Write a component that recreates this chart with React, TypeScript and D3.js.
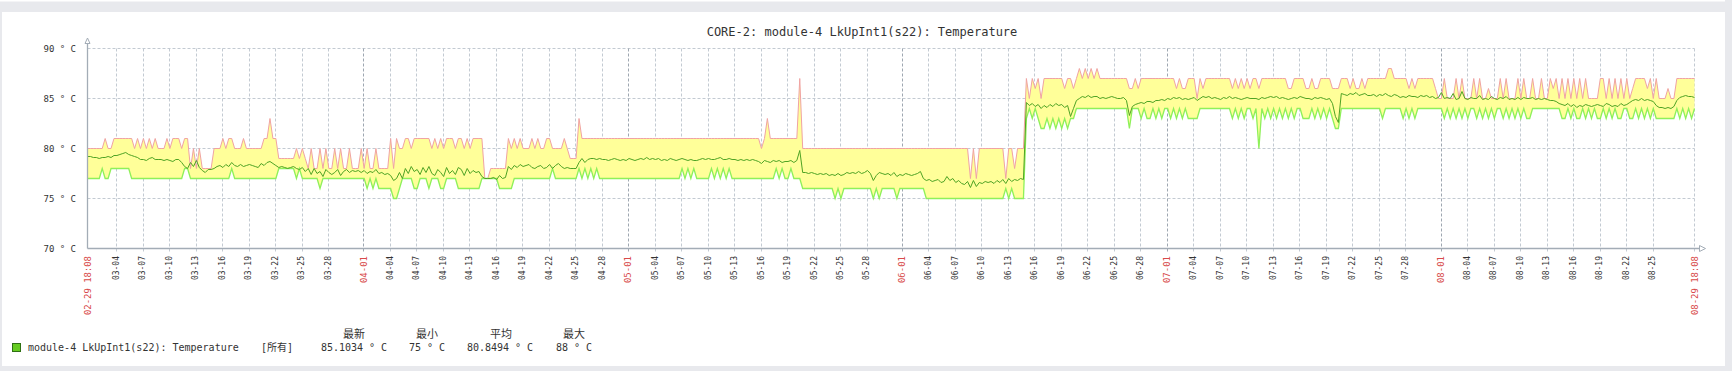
import React from 'react';
import * as d3 from 'd3';

// ---------- data (sampled every 8 hours from 02-29 18:08 to 08-29 18:08) ----------
const START_LABEL = '2024-02-29 18:08';
const END_LABEL = '2024-08-29 18:08';
const STEP_HOURS = 8;

const maxValues = [
  80,
  // 03-01 .. 03-10
  80,80,80, 80,80,81, 80,80,81, 81,81,81, 81,81,81, 80,81,80, 81,80,81, 80,81,80, 80,80,81, 80,81,81,
  81,80,81, 81,78,80, 78,80,78, 78,78,78, 80,80,80, 81,80,81, 81,80,80, 80,81,80, 80,80,80, 80,80,81,
  81,83,81, 81,79,79, 79,79,79, 79,80,79, 80,79,78, 80,78,78, 80,78,80, 78,78,80, 78,80,78, 78,80,78,
  78,78,80, 78,80,78, 78,80,78, 78,78,78, 81,78,81, 80,80,81, 81,80,81, 81,81,81, 81,81,80, 81,80,81,
  80,81,81, 81,80,81, 81,80,81, 80,81,81, 81,81,77, 77,78,78, 78,78,78, 78,81,80, 81,80,81, 80,80,80,
  81,80,81, 80,80,81, 81,80,80, 80,80,81, 80,79,79, 79,83,81, 81,81,81, 81,81,81, 81,81,81, 81,81,81,
  81,81,81, 81,81,81, 81,81,81, 81,81,81, 81,81,81, 81,81,81, 81,81,81, 81,81,81, 81,81,81, 81,81,81,
  81,81,81, 81,81,81, 81,81,81, 81,81,81, 81,81,81, 81,81,81, 80,81,83, 81,81,81, 81,81,81, 81,81,81,
  81,87,80, 80,80,80, 80,80,80, 80,80,80, 80,80,80, 80,80,80, 80,80,80, 80,80,80, 80,80,80, 80,80,80,
  80,80,80, 80,80,80, 80,80,80, 80,80,80, 80,80,80, 80,80,80, 80,80,80, 80,80,80, 80,80,80, 80,80,77,
  80,77,80, 80,80,80, 80,80,80, 80,80,77, 80,80,78, 80,80,80, 87,85,87, 86,87,85, 87,87,87, 87,87,87,
  87,86,87, 87,86,87, 88,87,88, 87,88,87, 88,87,87, 87,87,87, 87,87,87, 87,87,86, 86,87,86, 87,87,87,
  87,87,87, 87,87,87, 87,87,87, 86,87,86, 86,87,87, 87,85,87, 86,87,87, 87,87,87, 87,87,87, 87,86,87,
  86,87,86, 87,86,87, 87,86,87, 87,87,87, 87,87,87, 87,87,86, 86,87,87, 87,87,86, 86,87,86, 86,87,87,
  87,87,86, 86,86,87, 87,87,86, 87,86,86, 87,86,87, 87,87,87, 87,87,87, 88,88,87, 87,87,87, 87,86,87,
  86,87,87, 87,87,87, 87,86,85, 85,87,85, 85,85,87, 85,87,85, 85,85,87, 85,87,85, 85,86,85, 85,85,87,
  85,87,85, 85,85,87, 85,87,85, 85,87,85, 85,87,85, 85,87,86, 87,85,87, 85,87,85, 87,85,87, 85,87,85,
  85,85,85, 87,87,85, 87,85,87, 85,87,85, 87,85,86, 87,87,87, 87,86,87, 85,87,85, 85,85,86, 85,85,87,
  87,87,87, 87,87,87,
];

const minValues = [
  77,
  77,77,77, 77,78,77, 77,78,78, 78,78,78, 78,78,77, 77,77,77, 77,77,77, 77,77,77, 77,77,77, 77,77,77,
  77,77,78, 78,77,77, 77,77,77, 77,77,77, 77,77,77, 77,77,77, 78,77,77, 77,77,77, 77,77,77, 77,77,77,
  77,77,77, 77,78,78, 78,78,78, 78,77,78, 77,77,77, 77,77,77, 76,77,77, 77,77,77, 77,77,77, 77,77,77,
  77,77,77, 77,76,77, 76,77,76, 76,76,76, 76,75,75, 76,77,77, 77,77,76, 76,77,77, 77,76,77, 77,77,76,
  76,77,77, 77,77,76, 76,76,76, 76,76,76, 76,77,77, 77,77,77, 77,76,76, 76,76,76, 77,77,77, 77,77,77,
  77,77,77, 77,77,77, 77,78,77, 77,77,77, 77,77,77, 77,78,77, 78,77,78, 77,78,77, 77,77,77, 77,77,77,
  77,77,77, 77,77,77, 77,77,77, 77,77,77, 77,77,77, 77,77,77, 77,77,77, 78,77,78, 77,78,77, 77,77,77,
  77,78,77, 78,77,78, 77,78,77, 77,77,77, 77,77,77, 77,77,77, 77,77,77, 77,77,78, 77,78,77, 77,78,77,
  77,77,76, 76,76,76, 76,76,76, 76,76,76, 76,75,76, 75,76,76, 76,76,76, 76,76,76, 76,76,75, 76,75,76,
  76,76,76, 76,75,76, 76,76,76, 76,76,76, 76,76,75, 75,75,75, 75,75,75, 75,75,75, 75,75,75, 75,75,75,
  75,75,75, 75,75,75, 75,75,75, 75,75,76, 75,76,75, 75,75,75, 83,84,83, 84,83,82, 82,83,82, 83,82,83,
  82,83,82, 83,83,84, 84,84,84, 84,84,84, 84,84,84, 84,84,84, 84,84,84, 84,84,82, 84,84,84, 83,84,83,
  83,84,83, 84,83,84, 84,83,84, 83,84,83, 84,83,83, 83,83,84, 84,84,84, 84,84,84, 84,84,84, 84,83,84,
  83,84,83, 84,84,83, 84,80,84, 83,84,83, 84,83,84, 83,84,83, 84,83,84, 84,83,83, 83,84,83, 84,83,84,
  83,84,83, 82,82,84, 84,84,84, 84,84,84, 84,84,84, 84,84,84, 84,83,84, 84,84,84, 84,84,83, 84,83,84,
  83,84,84, 84,84,84, 84,84,84, 84,83,84, 83,84,83, 84,83,84, 83,84,84, 83,84,83, 84,83,84, 83,84,84,
  83,84,83, 84,83,84, 83,84,83, 83,84,84, 84,84,84, 84,84,84, 84,84,83, 83,84,83, 84,83,83, 84,83,84,
  83,84,83, 83,84,83, 84,83,84, 83,83,84, 84,83,83, 84,83,84, 83,84,83, 84,83,83, 83,83,83, 83,83,84,
  83,84,83, 84,83,84,
];

const avgValues = [
  79.2,
  79.2,79.1,79.1, 79.0,79.1,79.1, 79.2,79.1,79.3, 79.3,79.4,79.5, 79.6,79.4,79.3, 79.2,79.1,78.9, 78.9,78.8,79.0, 79.1,78.9,78.9, 78.9,78.8,78.9, 78.8,78.7,78.9,
  78.9,78.6,78.2, 78.0,78.6,78.2, 78.8,78.1,77.8, 77.6,77.9,77.9, 78.0,78.2,78.3, 78.1,78.4,78.2, 78.6,78.3,78.2, 78.4,78.2,78.3, 78.4,78.3,78.2, 78.1,78.5,78.3,
  78.6,78.7,78.5, 78.3,78.1,78.2, 78.1,78.0,78.1, 78.2,78.0,77.9, 78.1,77.7,78.0, 77.4,78.0,77.5, 77.7,77.2,77.9, 77.6,77.4,77.6, 77.9,77.3,77.7, 77.9,77.6,77.8,
  77.7,77.8,77.6, 77.8,77.5,77.7, 77.6,77.9,77.5, 77.6,77.4,77.5, 77.3,76.8,77.0, 77.6,77.0,78.0, 77.5,78.2,77.7, 77.9,77.4,78.1, 77.6,78.2,77.5, 77.3,77.9,77.6,
  77.2,78.1,77.5, 77.8,77.4,78.1, 77.9,77.3,78.0, 77.5,77.8,77.6, 77.7,77.2,77.0, 77.0,77.0,77.1, 76.9,77.3,77.0, 77.1,78.2,77.9, 78.3,78.1,78.4, 78.2,78.3,78.4,
  78.1,78.0,78.2, 78.3,78.0,78.1, 78.4,78.0,78.3, 78.5,78.2,78.0, 78.1,78.0,78.0, 78.0,78.6,79.0, 78.6,78.9,79.0, 79.0,78.9,79.0, 78.9,78.9,78.8, 78.9,79.0,78.9,
  78.8,78.9,78.8, 79.0,78.9,78.8, 78.9,79.0,78.9, 79.1,78.9,79.0, 78.9,79.0,78.8, 78.9,78.8,79.0, 78.9,78.8,78.9, 79.0,78.9,78.8, 78.9,78.8,78.8, 78.9,79.0,78.9,
  79.0,78.9,78.9, 79.0,79.1,78.9, 78.9,79.0,78.9, 78.9,78.8,78.9, 78.8,78.9,78.8, 78.9,78.8,78.7, 78.5,78.8,78.7, 78.6,78.8,78.7, 78.8,78.6,78.7, 78.7,78.8,78.6,
  78.8,79.8,77.6, 77.6,77.5,77.6, 77.5,77.4,77.5, 77.4,77.5,77.3, 77.4,77.3,77.5, 77.3,77.4,77.6, 77.5,77.6,77.5, 77.7,77.5,77.6, 77.8,77.5,76.8, 77.3,77.6,77.5,
  77.4,77.5,77.3, 77.6,77.2,77.4, 77.3,77.5,77.4, 77.3,77.4,77.5, 77.7,77.0,76.8, 76.9,76.7,76.8, 76.9,76.6,76.7, 77.2,76.8,77.0, 76.6,76.8,76.5, 76.4,76.7,76.1,
  76.8,76.2,76.6, 76.5,76.7,76.6, 76.7,76.5,76.8, 76.6,76.9,76.5, 77.0,76.7,76.9, 76.8,77.0,76.9, 84.6,84.3,84.5, 84.2,84.4,84.0, 84.3,84.1,84.4, 84.2,84.5,84.3,
  84.4,84.1,84.3, 83.2,84.0,84.8, 85.0,85.2,85.1, 85.3,85.1,85.2, 85.2,85.0,85.1, 85.0,85.1,85.2, 85.1,85.0,85.0, 85.1,84.8,83.3, 84.2,84.4,84.5, 84.6,84.5,84.7,
  84.7,84.6,84.8, 84.8,84.9,84.8, 85.0,84.9,85.1, 85.0,85.1,84.9, 85.0,84.9,85.0, 85.1,84.8,85.0, 85.2,85.1,85.2, 85.0,85.1,85.0, 84.9,85.1,85.0, 85.2,85.0,85.1,
  85.0,84.9,85.0, 85.1,85.0,85.0, 85.0,84.9,85.1, 85.0,85.1,85.2, 85.1,85.2,85.0, 85.1,85.0,84.9, 85.0,85.1,85.0, 85.2,85.1,85.0, 85.0,84.9,85.1, 85.0,85.1,85.0,
  84.9,85.0,84.5, 83.2,82.6,85.5, 85.4,85.3,85.5, 85.4,85.6,85.3, 85.4,85.5,85.3, 85.3,85.4,85.2, 85.4,85.3,85.5, 85.3,85.2,85.4, 85.3,85.1,85.2, 85.1,85.3,85.2,
  85.2,85.1,85.3, 85.2,85.3,85.1, 85.2,85.0,85.1, 85.6,85.0,85.1, 85.0,85.5,84.9, 85.0,85.7,85.0, 84.9,85.1,85.0, 85.0,85.3,84.9, 85.0,84.9,85.2, 85.0,84.9,85.1,
  85.0,85.2,84.9, 85.0,84.9,85.1, 84.9,85.1,85.0, 85.0,85.1,84.9, 85.0,84.9,85.0, 84.9,84.8,84.8, 84.7,84.5,84.4, 84.3,84.5,84.2, 84.4,84.1,84.3, 84.2,84.4,84.3,
  84.2,84.3,84.4, 84.3,84.2,84.5, 84.4,84.2,84.3, 84.2,84.5,84.3, 84.4,84.6,84.8, 84.9,84.8,85.0, 84.8,84.9,84.8, 84.7,84.3,84.1, 84.1,84.0,84.1, 84.0,84.2,84.8,
  85.1,85.2,85.3, 85.2,85.2,85.1,
];

const yTicks = [70, 75, 80, 85, 90];
const dayTickLabels = [
  '03-04', '03-07', '03-10', '03-13', '03-16', '03-19', '03-22', '03-25', '03-28',
  '04-04', '04-07', '04-10', '04-13', '04-16', '04-19', '04-22', '04-25', '04-28',
  '05-04', '05-07', '05-10', '05-13', '05-16', '05-19', '05-22', '05-25', '05-28',
  '06-04', '06-07', '06-10', '06-13', '06-16', '06-19', '06-22', '06-25', '06-28',
  '07-04', '07-07', '07-10', '07-13', '07-16', '07-19', '07-22', '07-25', '07-28',
  '08-04', '08-07', '08-10', '08-13', '08-16', '08-19', '08-22', '08-25',
];
const monthTickLabels = ['04-01', '05-01', '06-01', '07-01', '08-01'];
const edgeTickLabels = ['02-29 18:08', '08-29 18:08'];

const title = 'CORE-2: module-4 LkUpInt1(s22): Temperature';
const seriesName = 'module-4 LkUpInt1(s22): Temperature';
const legendScope = '[所有]';
const legendHeaders = ['最新', '最小', '平均', '最大'];
const legendValues = ['85.1034 ° C', '75 ° C', '80.8494 ° C', '88 ° C'];

// ---------- component ----------
const MONO = '"DejaVu Sans Mono", "Liberation Mono", monospace';
const CJK = '"Noto Sans CJK SC", "Noto Sans CJK JP", sans-serif';

export default function App() {
  const W = 1732;
  const H = 371;
  const parse = d3.utcParse('%Y-%m-%d %H:%M');
  const start = parse(START_LABEL) as Date;
  const end = parse(END_LABEL) as Date;

  const x = d3.scaleUtc().domain([start, end]).range([87.5, 1694.5]);
  const y = d3.scaleLinear().domain([70, 90]).range([248.5, 48.5]);

  const timeAt = (i: number) => new Date(start.getTime() + i * STEP_HOURS * 3600 * 1000);

  const rows = maxValues.map((mx, i) => ({ t: timeAt(i), max: mx, min: minValues[i] }));

  const area = d3
    .area<{ t: Date; max: number; min: number }>()
    .x((d) => x(d.t))
    .y0((d) => y(d.min))
    .y1((d) => y(d.max));

  const lineOf = (vals: number[]) =>
    d3
      .line<number>()
      .x((_, i) => x(timeAt(i)))
      .y((v) => y(v))(vals) as string;

  const tickDate = (lbl: string) => parse(`2024-${lbl} 00:00`) as Date;

  const gridColor = '#c3cad2';
  const monthGridColor = '#9ea7b1';
  const axisColor = '#a3acb6';
  const red = '#d84a4a';
  const textColor = '#333';

  const tickLabelY = 256;

  return (
    <svg
      width={W}
      height={H}
      style={{ position: 'absolute', left: 0, top: 0, display: 'block' }}
      xmlns="http://www.w3.org/2000/svg"
    >
      {/* page background */}
      <rect x={0} y={0} width={W} height={H} fill="#e8e9ed" />
      <rect x={0} y={0} width={1725} height={1.5} fill="#ffffff" />
      <rect x={2} y={12} width={1723} height={354} fill="#ffffff" />

      {/* title */}
      <text
        x={862}
        y={35.5}
        textAnchor="middle"
        fontFamily={MONO}
        fontSize={12}
        fill={textColor}
      >
        {title}
      </text>

      {/* horizontal grid */}
      {yTicks
        .filter((v) => v > 70)
        .map((v) => (
          <line
            key={`h${v}`}
            x1={87.5}
            x2={1694.5}
            y1={y(v)}
            y2={y(v)}
            stroke={gridColor}
            strokeDasharray="3,2"
          />
        ))}

      {/* vertical grid */}
      {dayTickLabels.map((l) => (
        <line
          key={`v${l}`}
          x1={Math.round(x(tickDate(l))) + 0.5}
          x2={Math.round(x(tickDate(l))) + 0.5}
          y1={y(90)}
          y2={252}
          stroke={gridColor}
          strokeDasharray="3,2"
        />
      ))}
      {monthTickLabels.map((l) => (
        <line
          key={`m${l}`}
          x1={Math.round(x(tickDate(l))) + 0.5}
          x2={Math.round(x(tickDate(l))) + 0.5}
          y1={y(90)}
          y2={252}
          stroke={monthGridColor}
          strokeDasharray="3,2"
        />
      ))}
      <line
        x1={x(end)}
        x2={x(end)}
        y1={y(90)}
        y2={252}
        stroke={gridColor}
        strokeDasharray="3,2"
      />

      {/* data */}
      <path d={area(rows) as string} fill="#ffff99" stroke="none" />
      <path d={lineOf(maxValues)} fill="none" stroke="#f0a3a3" strokeWidth={1} />
      <path d={lineOf(minValues)} fill="none" stroke="#8ef05a" strokeWidth={1.3} />
      <path d={lineOf(avgValues)} fill="none" stroke="#4ea324" strokeWidth={1} />

      {/* axes */}
      <line x1={87.5} x2={87.5} y1={43} y2={248.5} stroke={axisColor} strokeWidth={1.3} />
      <polygon
        points="87.5,38 85,43.5 90,43.5"
        fill="#fff"
        stroke={axisColor}
        strokeWidth={1}
      />
      <line x1={87.5} x2={1699.5} y1={248.5} y2={248.5} stroke={axisColor} strokeWidth={1.3} />
      <polygon
        points="1705.5,248.5 1699.5,245.5 1699.5,251.5"
        fill="#fff"
        stroke={axisColor}
        strokeWidth={1}
      />

      {/* y tick labels */}
      {yTicks.map((v) => (
        <text
          key={`yl${v}`}
          x={76}
          y={y(v)}
          dy="0.35em"
          textAnchor="end"
          fontFamily={MONO}
          fontSize={9}
          fill={textColor}
        >
          {`${v} ° C`}
        </text>
      ))}

      {/* x tick labels */}
      {dayTickLabels.map((l) => (
        <text
          key={`xl${l}`}
          transform={`translate(${x(tickDate(l))},${tickLabelY}) rotate(-90)`}
          dy="0.35em"
          textAnchor="end"
          fontFamily={MONO}
          fontSize={8}
          fill={textColor}
        >
          {l}
        </text>
      ))}
      {monthTickLabels.map((l) => (
        <text
          key={`ml${l}`}
          transform={`translate(${x(tickDate(l))},${tickLabelY}) rotate(-90)`}
          dy="0.35em"
          textAnchor="end"
          fontFamily={MONO}
          fontSize={9}
          fill={red}
        >
          {l}
        </text>
      ))}
      {edgeTickLabels.map((l, i) => (
        <text
          key={`el${l}`}
          transform={`translate(${x(i === 0 ? start : end)},${tickLabelY}) rotate(-90)`}
          dy="0.35em"
          textAnchor="end"
          fontFamily={MONO}
          fontSize={9}
          textLength={59}
          lengthAdjust="spacing"
          fill={red}
        >
          {l}
        </text>
      ))}

      {/* legend */}
      <rect x={12.5} y={343.5} width={8} height={8} fill="#66cc22" stroke="#2f7014" strokeWidth={1} />
      <text x={28} y={351} fontFamily={MONO} fontSize={10} fill={textColor}>
        {seriesName}
      </text>
      <text x={261} y={351} fontFamily={`${MONO}, ${CJK}`} fontSize={10} fill={textColor}>
        {legendScope}
      </text>
      {legendHeaders.map((h, i) => (
        <text
          key={`lh${h}`}
          x={[354, 427, 501, 574][i]}
          y={338}
          textAnchor="middle"
          fontFamily={CJK}
          fontSize={11}
          fill={textColor}
        >
          {h}
        </text>
      ))}
      {legendValues.map((v, i) => (
        <text
          key={`lv${i}`}
          x={[354, 427, 500, 574][i]}
          y={351}
          textAnchor="middle"
          fontFamily={MONO}
          fontSize={10}
          fill={textColor}
        >
          {v}
        </text>
      ))}
    </svg>
  );
}
